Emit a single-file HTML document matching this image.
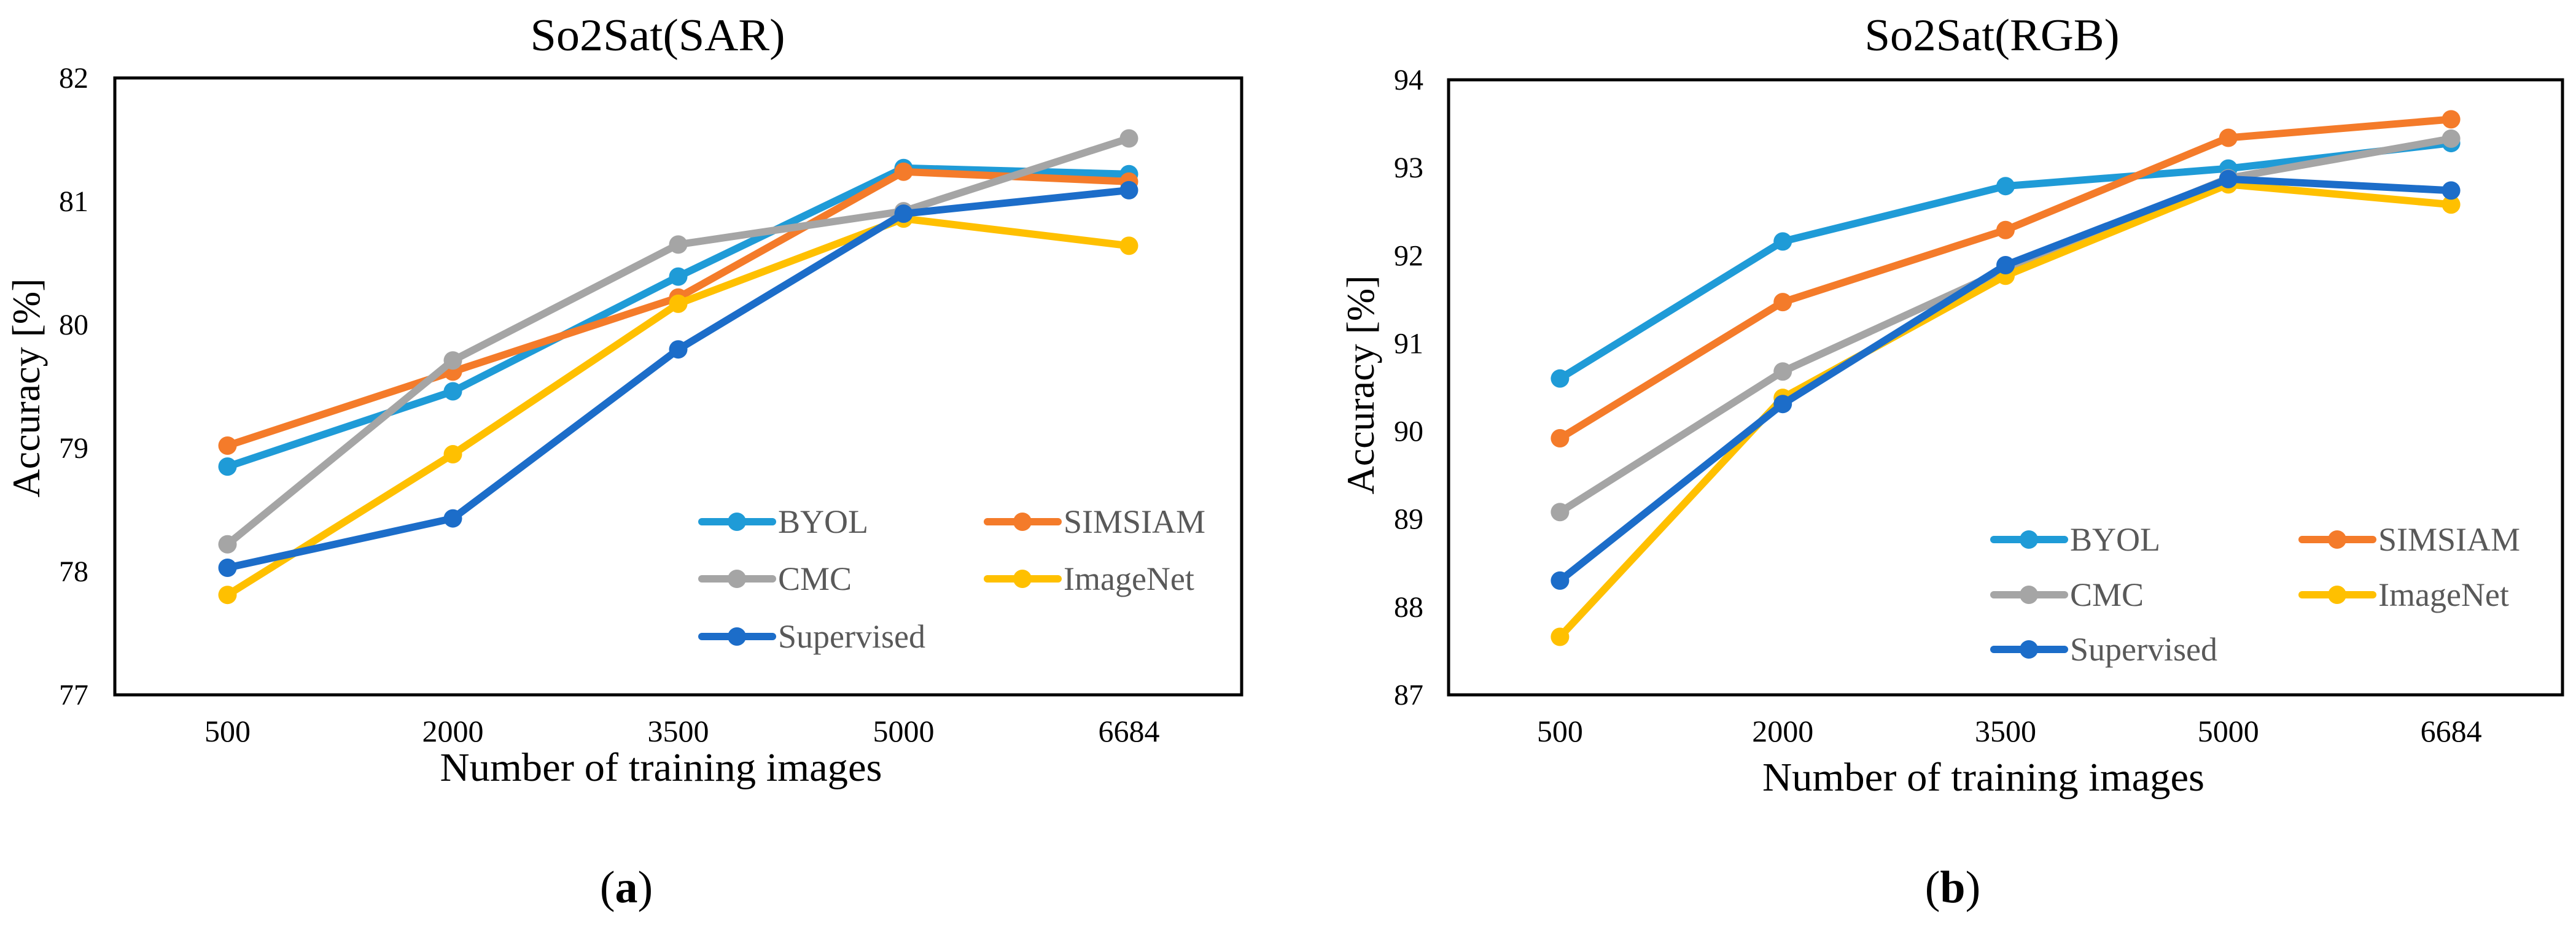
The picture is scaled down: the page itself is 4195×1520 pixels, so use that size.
<!DOCTYPE html>
<html><head><meta charset="utf-8"><style>
html,body{margin:0;padding:0;background:#fff;}
svg{display:block;}
svg text{font-family:"Liberation Serif","Times New Roman",serif;}
</style></head><body>
<svg id="fig" width="4195" height="1520" viewBox="0 0 4195 1520" xmlns="http://www.w3.org/2000/svg" font-family="Liberation Serif, serif">
<rect width="4195" height="1520" fill="#fff"/>
</svg>
<script>
const categories = ["500","2000","3500","5000","6684"];
const seriesNames = ["BYOL","SIMSIAM","CMC","ImageNet","Supervised"];
const seriesColors = ["#1F9BD7","#F47B2A","#A5A5A5","#FFC000","#1C6DC9"];
const sarTicks = [77,78,79,80,81,82];
const rgbTicks = [87,88,89,90,91,92,93,94];
const sarByol = [78.85,79.46,80.39,81.27,81.22];
const sarSimsiam = [79.02,79.62,80.22,81.24,81.16];
const sarCmc = [78.22,79.71,80.65,80.92,81.51];
const sarImagenet = [77.81,78.95,80.17,80.86,80.64];
const sarSupervised = [78.03,78.43,79.80,80.90,81.09];
const rgbByol = [90.60,92.16,92.79,92.99,93.28];
const rgbSimsiam = [89.92,91.47,92.29,93.34,93.55];
const rgbCmc = [89.08,90.68,91.84,92.88,93.33];
const rgbImagenet = [87.66,90.38,91.77,92.81,92.58];
const rgbSupervised = [88.30,90.31,91.89,92.87,92.74];

const NS="http://www.w3.org/2000/svg";
const svg=document.getElementById('fig');
const FF='"Liberation Serif", "Times New Roman", serif';
function mk(tag,attrs,parent){const e=document.createElementNS(NS,tag);for(const k in attrs)e.setAttribute(k,attrs[k]);if(tag==='text')e.setAttribute('font-family',FF);(parent||svg).appendChild(e);return e;}

function chart(cfg){
  const g=mk('g',{});
  
  
  const {x0,x1,y0,y1,ticks}=cfg;
  const ymin=ticks[0],ymax=ticks[ticks.length-1];
  const yS=v=>y1-(v-ymin)/(ymax-ymin)*(y1-y0);
  const band=(x1-x0)/categories.length;
  const xS=i=>x0+band*(i+0.5);
  const box=mk('rect',{x:x0,y:y0,width:x1-x0,height:y1-y0,fill:'none',stroke:'#000','stroke-width':5},g);
  
  
  ticks.forEach(t=>{
    const tx=mk('text',{x:cfg.tickRight,y:yS(t)+16,'font-size':48,'text-anchor':'end',fill:'#000'},g);
    tx.textContent=t;
    
    
  });
  categories.forEach((c,i)=>{
    const tx=mk('text',{x:xS(i),y:y1+76,'font-size':50,'text-anchor':'middle',fill:'#000'},g);
    tx.textContent=c;
    
    
  });
  cfg.series.forEach((vals,si)=>{
    const pts=vals.map((v,i)=>xS(i)+','+yS(v)).join(' ');
    const pl=mk('polyline',{points:pts,fill:'none',stroke:seriesColors[si],'stroke-width':12,'stroke-linejoin':'round','stroke-linecap':'round'},g);
    
    
    vals.forEach((v,i)=>{
      const c=mk('circle',{cx:xS(i),cy:yS(v),r:15,fill:seriesColors[si]},g);
      
      
    });
  });
  const lg=mk('g',{},g);
  
  
  seriesNames.forEach((n,si)=>{
    const col=si%2, row=Math.floor(si/2);
    const lx=cfg.legX[col], ly=cfg.legY[row];
    const e=mk('g',{},lg);
    
    
    mk('line',{x1:lx,y1:ly,x2:lx+115,y2:ly,stroke:seriesColors[si],'stroke-width':12,'stroke-linecap':'round'},e);
    mk('circle',{cx:lx+57,cy:ly,r:15,fill:seriesColors[si]},e);
    const t=mk('text',{x:lx+124,y:ly+18,'font-size':54,fill:'#595959'},e);
    t.textContent=n;
  });
  const title=mk('text',{x:cfg.titleX,y:82,'font-size':74,'text-anchor':'middle',fill:'#000',textLength:415,lengthAdjust:'spacingAndGlyphs'},g);
  title.textContent=cfg.title;
  
  
  const xt=mk('text',{x:(x0+x1)/2+cfg.xtOff,y:cfg.xtY,'font-size':66,'text-anchor':'middle',fill:'#000',textLength:720,lengthAdjust:'spacingAndGlyphs'},g);
  xt.textContent='Number of training images';
  
  
  const yt=mk('text',{x:0,y:0,'font-size':64,'text-anchor':'middle',fill:'#000',transform:`translate(${cfg.ytX},${cfg.ytY}) rotate(-90)`},g);
  yt.textContent='Accuracy [%]';
  
  
  const sub=mk('text',{x:cfg.subX,y:1470,'font-size':74,'text-anchor':'middle',fill:'#000'},g);
  sub.innerHTML='(<tspan font-weight="bold">'+cfg.sub+'</tspan>)';
  
  
}
chart({name:'chart-sar',title:'So2Sat(SAR)',x0:187,x1:2022,y0:127,y1:1132,ticks:sarTicks,tickRight:144,
  series:[sarByol,sarSimsiam,sarCmc,sarImagenet,sarSupervised],legX:[1143,1608],legY:[850,943,1037],
  titleX:1071,xtOff:-28,xtY:1272,ytX:64,ytY:632,subX:1020,sub:'a'});
chart({name:'chart-rgb',title:'So2Sat(RGB)',x0:2359,x1:4173,y0:130,y1:1132,ticks:rgbTicks,tickRight:2318,
  series:[rgbByol,rgbSimsiam,rgbCmc,rgbImagenet,rgbSupervised],legX:[3247,3749],legY:[879,969,1058],
  titleX:3244,xtOff:-36,xtY:1288,ytX:2237,ytY:627,subX:3180,sub:'b'});
</script>
</body></html>
